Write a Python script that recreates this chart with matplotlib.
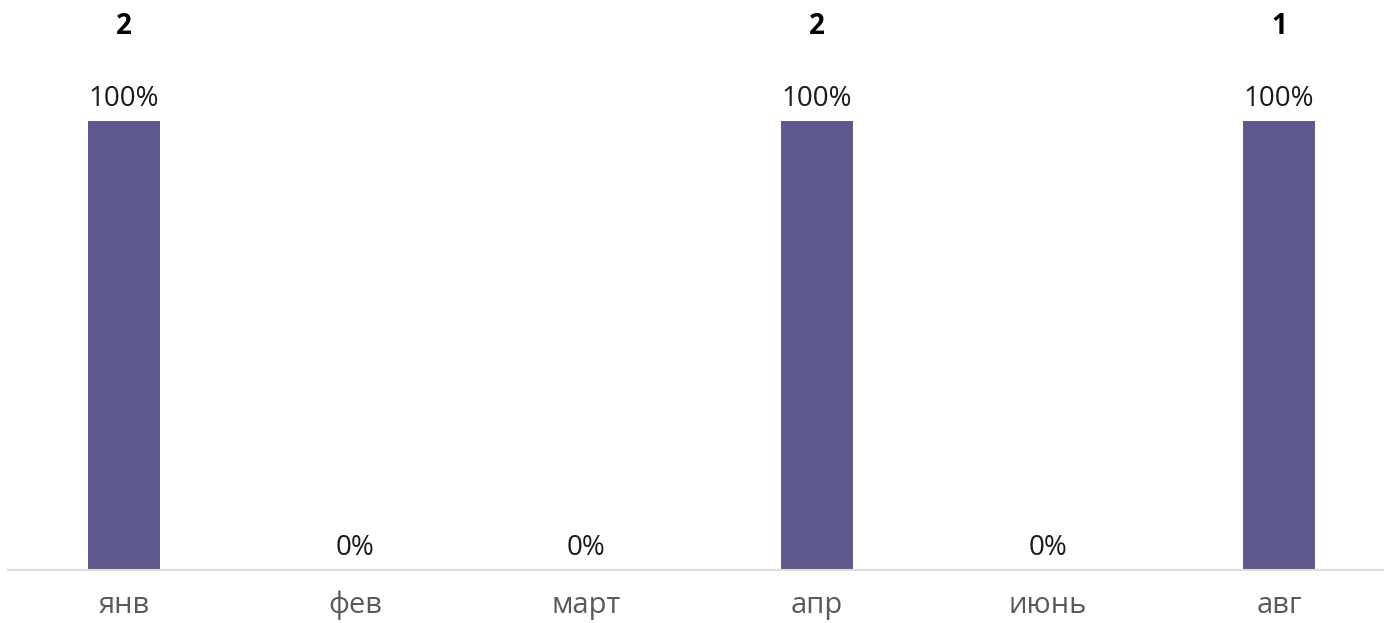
import matplotlib
matplotlib.use("Agg")
import matplotlib.pyplot as plt

categories = ["янв", "фев", "март", "апр", "июнь", "авг"]
percent = [100, 0, 0, 100, 0, 100]
counts = ["2", "", "", "2", "", "1"]

W, H = 1384, 623
fig = plt.figure(figsize=(W / 100, H / 100), dpi=100)
plt.rcParams['font.family'] = ['Open Sans', 'DejaVu Sans']

base_px = 570
ax = fig.add_axes([8 / W, (H - base_px) / H, 1 - 8 / W, base_px / H])
x = list(range(len(categories)))
ax.bar(x, percent, width=72 / 231, color="#5E5A8E", zorder=2)
ax.set_xlim(-(124 - 8) / 231, 5 + (1384 - 1279) / 231)
ax.set_ylim(0, 100 * base_px / (base_px - 121))

for s in ["top", "right", "left"]:
    ax.spines[s].set_visible(False)
ax.spines["bottom"].set_color("#DDDDDD")
ax.spines["bottom"].set_linewidth(1.5)
ax.set_yticks([])
ax.set_xticks(x)
ax.set_xticklabels(categories, fontsize=21, color="#5A5A5A")
ax.tick_params(axis="x", length=0, pad=15)

for xi, p, c in zip(x, percent, counts):
    ax.annotate(f"{p}%", (xi, p), xytext=(0, 6), textcoords="offset points",
                ha="center", va="bottom", fontsize=20, color="#1A1A1A")
    if c:
        ax.text(xi, 1 - 26 / base_px, c, transform=ax.get_xaxis_transform(),
                ha="center", va="center", fontsize=20, fontweight="bold", color="#000000")

fig.savefig("out.png", dpi=100)
